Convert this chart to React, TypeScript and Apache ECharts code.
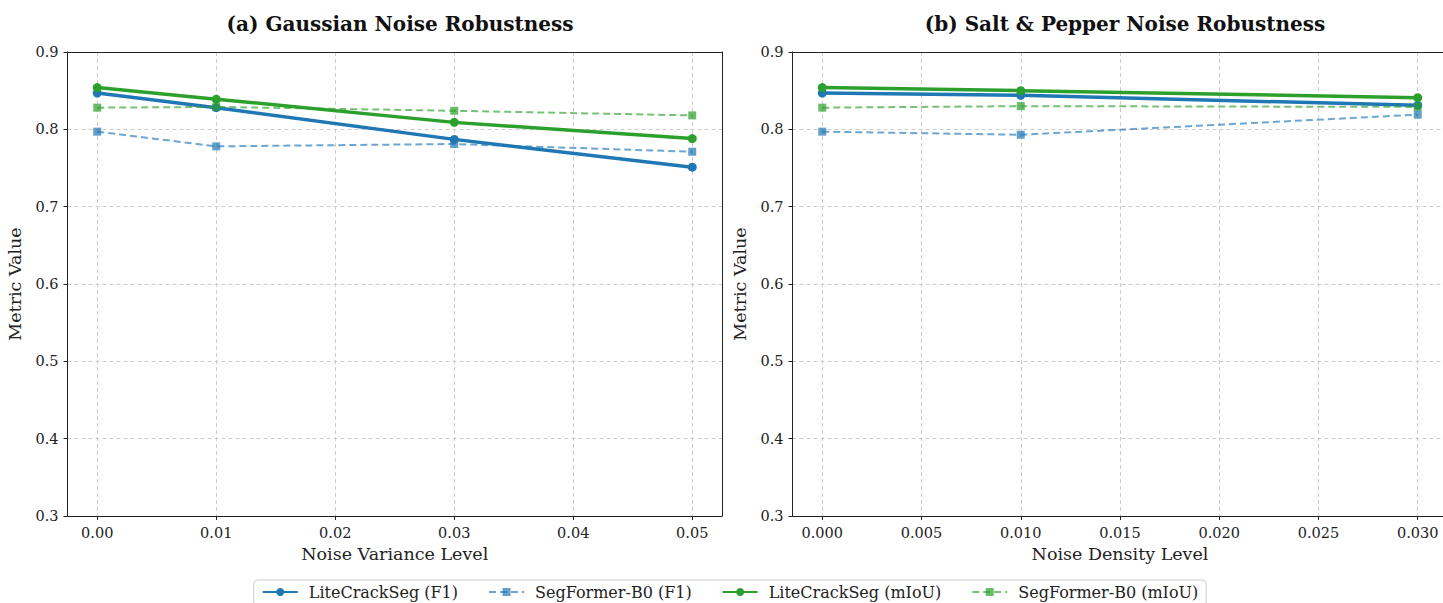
import React, { useEffect, useRef } from "react";
import * as echarts from "echarts";

const gaussX = [0, 0.01, 0.03, 0.05];
const gaussLiteF1 = [0.847, 0.828, 0.787, 0.751];
const gaussSegF1 = [0.797, 0.778, 0.781, 0.771];
const gaussLiteMiou = [0.854, 0.839, 0.809, 0.788];
const gaussSegMiou = [0.828, 0.829, 0.824, 0.818];

const spX = [0, 0.01, 0.03];
const spLiteF1 = [0.847, 0.844, 0.831];
const spSegF1 = [0.797, 0.793, 0.819];
const spLiteMiou = [0.854, 0.85, 0.841];
const spSegMiou = [0.828, 0.83, 0.829];

const gaussTicks = [0, 0.01, 0.02, 0.03, 0.04, 0.05];
const spTicks = [0, 0.005, 0.01, 0.015, 0.02, 0.025, 0.03];

const seriesNames = [
  "LiteCrackSeg (F1)",
  "SegFormer-B0 (F1)",
  "LiteCrackSeg (mIoU)",
  "SegFormer-B0 (mIoU)",
];
const titles = ["(a) Gaussian Noise Robustness", "(b) Salt & Pepper Noise Robustness"];
const xNames = ["Noise Variance Level", "Noise Density Level"];
const yName = "Metric Value";

const BLUE = "#1f77b4";
const GREEN = "#2ca02c";
const FONT = "DejaVu Serif";

function pairs(xs: number[], ys: number[]) {
  return xs.map((x, i) => [x, ys[i]]);
}

export default function App() {
  const ref = useRef<HTMLDivElement>(null);
  useEffect(() => {
    if (!ref.current) return;
    const chart = echarts.init(ref.current, null, { renderer: "svg" });

    const grids = [
      { left: 67.5, top: 52, width: 654.5, height: 464 },
      { left: 792.5, top: 52, width: 655, height: 464 },
    ].map((g) => ({
      ...g,
      show: false,
      containLabel: false,
    }));

    const mkX = (idx: number, min: number, max: number, ticks: number[], dec: number) => ({
      type: "value",
      gridIndex: idx,
      min,
      max,
      name: xNames[idx],
      nameLocation: "middle",
      nameGap: 27,
      nameTextStyle: { fontFamily: FONT, fontSize: 17.5, color: "#222" },
      axisLine: { show: true, onZero: false, lineStyle: { color: "#222", width: 1 } },
      axisTick: { show: true, inside: false, length: 4, customValues: ticks, lineStyle: { color: "#222" } },
      axisLabel: {
        customValues: ticks,
        margin: 9,
        fontFamily: FONT,
        fontSize: 14.5,
        color: "#222",
        formatter: (v: number) => v.toFixed(dec),
      },
      splitLine: { show: true, lineStyle: { color: "#cccccc", type: [4, 3], width: 1 } },
    });

    // top / right spines as bare axes
    const mkXTop = (idx: number, min: number, max: number) => ({
      type: "value",
      gridIndex: idx,
      position: "top",
      min,
      max,
      axisLine: { show: true, onZero: false, lineStyle: { color: "#222", width: 1 } },
      axisTick: { show: false },
      axisLabel: { show: false },
      splitLine: { show: false },
    });
    const mkYRight = (idx: number) => ({
      type: "value",
      gridIndex: idx,
      position: "right",
      min: 0.3,
      max: 0.9,
      axisLine: { show: true, onZero: false, lineStyle: { color: "#222", width: 1 } },
      axisTick: { show: false },
      axisLabel: { show: false },
      splitLine: { show: false },
    });

    const mkY = (idx: number, gap: number) => ({
      type: "value",
      gridIndex: idx,
      min: 0.3,
      max: 0.9,
      interval: 0.1,
      name: yName,
      nameLocation: "middle",
      nameGap: gap,
      nameTextStyle: { fontFamily: FONT, fontSize: 17.5, color: "#222" },
      axisLine: { show: true, onZero: false, lineStyle: { color: "#222", width: 1 } },
      axisTick: { show: true, inside: false, length: 4, lineStyle: { color: "#222" } },
      axisLabel: {
        margin: 9,
        fontFamily: FONT,
        fontSize: 14.5,
        color: "#222",
        formatter: (v: number) => v.toFixed(1),
      },
      splitLine: {
        show: true,
        showMinLine: false,
        showMaxLine: false,
        lineStyle: { color: "#cccccc", type: [4, 3], width: 1 },
      },
    });

    const solid = (name: string, color: string, data: number[][], idx: number) => ({
      type: "line",
      name,
      xAxisIndex: idx,
      yAxisIndex: idx,
      data,
      symbol: "circle",
      symbolSize: 9,
      lineStyle: { color, width: 3.5 },
      itemStyle: { color },
    });
    const dashed = (name: string, color: string, data: number[][], idx: number) => ({
      type: "line",
      name,
      xAxisIndex: idx,
      yAxisIndex: idx,
      data,
      symbol: "rect",
      symbolSize: 8,
      lineStyle: { color, width: 2, type: [7, 4], opacity: 0.65 },
      itemStyle: { color, opacity: 0.7 },
    });

    const series = [
      solid(seriesNames[0], BLUE, pairs(gaussX, gaussLiteF1), 0),
      dashed(seriesNames[1], BLUE, pairs(gaussX, gaussSegF1), 0),
      solid(seriesNames[2], GREEN, pairs(gaussX, gaussLiteMiou), 0),
      dashed(seriesNames[3], GREEN, pairs(gaussX, gaussSegMiou), 0),
      solid(seriesNames[0], BLUE, pairs(spX, spLiteF1), 1),
      dashed(seriesNames[1], BLUE, pairs(spX, spSegF1), 1),
      solid(seriesNames[2], GREEN, pairs(spX, spLiteMiou), 1),
      dashed(seriesNames[3], GREEN, pairs(spX, spSegMiou), 1),
    ];

    chart.setOption({
      animation: false,
      backgroundColor: "#ffffff",
      title: [
        {
          text: titles[0],
          left: 395,
          top: 9,
          textAlign: "center",
          textStyle: { fontFamily: FONT, fontSize: 20, fontWeight: "bold", color: "#111" },
        },
        {
          text: titles[1],
          left: 1120,
          top: 9,
          textAlign: "center",
          textStyle: { fontFamily: FONT, fontSize: 20, fontWeight: "bold", color: "#111" },
        },
      ],
      grid: grids,
      xAxis: [
        mkX(0, -0.0025, 0.0525, gaussTicks, 2),
        mkX(1, -0.0015, 0.0315, spTicks, 3),
        mkXTop(0, -0.0025, 0.0525),
        mkXTop(1, -0.0015, 0.0315),
      ],
      yAxis: [mkY(0, 44), mkY(1, 44), mkYRight(0), mkYRight(1)],
      legend: {
        data: seriesNames,
        left: "center",
        top: 580,
        orient: "horizontal",
        itemWidth: 35,
        itemHeight: 10,
        itemGap: 30,
        padding: [4, 8, 6, 8],
        borderColor: "#cccccc",
        borderWidth: 1,
        borderRadius: 4,
        backgroundColor: "#ffffff",
        textStyle: { fontFamily: FONT, fontSize: 16, color: "#222", padding: [0, 0, 0, 6] },
      },
      series,
    });
    return () => chart.dispose();
  }, []);

  return (
    <div
      style={{
        position: "absolute",
        left: 0,
        top: 0,
        width: 1443,
        height: 603,
        overflow: "hidden",
        background: "#fff",
      }}
    >
      <div ref={ref} style={{ width: 1460, height: 603 }} />
    </div>
  );
}
